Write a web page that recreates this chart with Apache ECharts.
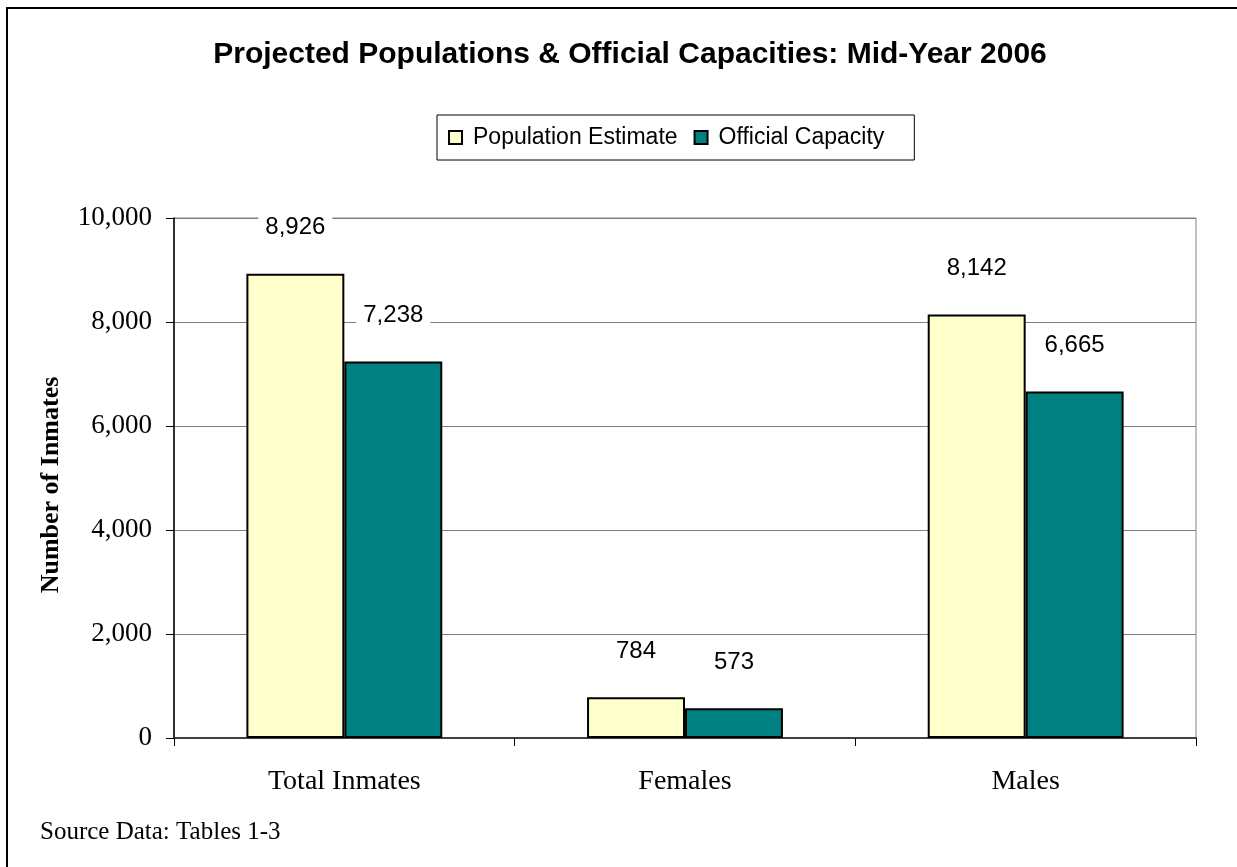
<!DOCTYPE html>
<html>
<head>
<meta charset="utf-8">
<script src="https://cdn.jsdelivr.net/npm/echarts@6/dist/echarts.min.js"></script>
<style>
  html, body { margin: 0; padding: 0; background: #fff; }
  #chart { width: 1237px; height: 867px; }
</style>
</head>
<body>
<div id="chart"></div>
<script>
// Inmate groups and their mid-year 2006 figures
const categories = ['Total Inmates', 'Females', 'Males'];
const populationEstimate = [8926, 784, 8142];
const officialCapacity = [7238, 573, 6665];
const yTicks = { min: 0, max: 10000, interval: 2000 };

const fmt = v => Number(v).toLocaleString('en-US');
const SANS = 'Liberation Sans, Arial, sans-serif';
const SERIF = 'Liberation Serif, Times New Roman, serif';

const valueLabel = {
  show: true,
  position: 'top',
  distance: 32,
  fontFamily: SANS,
  fontSize: 24,
  color: '#000',
  backgroundColor: '#fff',
  padding: [2, 7],
  lineHeight: 24,
  formatter: p => fmt(p.value)
};

const chart = echarts.init(document.getElementById('chart'), null, { renderer: 'canvas' });

chart.setOption({
  animation: false,
  backgroundColor: '#fff',
  title: {
    text: 'Projected Populations & Official Capacities: Mid-Year 2006',
    left: 625,
    textAlign: 'center',
    top: 35,
    textStyle: {
      fontFamily: SANS,
      fontWeight: 'bold',
      fontSize: 30,
      color: '#000'
    }
  },
  legend: {
    left: 437,
    top: 115,
    padding: [10, 30, 10, 11],
    borderColor: '#000',
    borderWidth: 1,
    itemWidth: 13,
    itemHeight: 13,
    itemGap: 16,
    icon: 'rect',
    textStyle: {
      fontFamily: SANS,
      fontSize: 23,
      lineHeight: 25,
      color: '#000',
      padding: [0, 0, 0, 6]
    },
    data: ['Population Estimate', 'Official Capacity']
  },
  grid: {
    left: 174,
    right: 41,
    top: 218,
    bottom: 129,
    show: true,
    borderColor: '#808080',
    borderWidth: 1,
    containLabel: false
  },
  xAxis: {
    type: 'category',
    data: categories,
    axisLine: { lineStyle: { color: '#404040', width: 2 } },
    axisTick: { show: true, length: 8, lineStyle: { color: '#000', width: 1 } },
    axisLabel: {
      margin: 30,
      fontFamily: SERIF,
      fontSize: 28,
      color: '#000'
    }
  },
  yAxis: {
    type: 'value',
    min: yTicks.min,
    max: yTicks.max,
    interval: yTicks.interval,
    name: 'Number of Inmates',
    nameLocation: 'middle',
    nameGap: 110,
    nameTextStyle: {
      fontFamily: SERIF,
      fontWeight: 'bold',
      fontSize: 26,
      color: '#000',
      padding: [0, 14, 0, 0]
    },
    axisLine: { show: true, lineStyle: { color: '#000', width: 1.5 } },
    axisTick: { show: true, length: 8, lineStyle: { color: '#000', width: 1 } },
    splitLine: { show: true, lineStyle: { color: '#808080', width: 1 } },
    axisLabel: {
      margin: 22,
      fontFamily: SERIF,
      fontSize: 27,
      color: '#000',
      formatter: v => fmt(v)
    }
  },
  series: [
    {
      name: 'Population Estimate',
      type: 'bar',
      data: populationEstimate,
      barGap: '0%',
      barCategoryGap: '42.5%',
      itemStyle: { color: '#FFFFCC', borderColor: '#000', borderWidth: 2 },
      label: valueLabel,
      z: 3
    },
    {
      name: 'Official Capacity',
      type: 'bar',
      data: officialCapacity,
      barGap: '0%',
      barCategoryGap: '42.5%',
      itemStyle: { color: '#008080', borderColor: '#000', borderWidth: 2 },
      label: valueLabel,
      z: 3
    }
  ],
  graphic: [
    {
      type: 'rect',
      shape: { x: 7, y: 8, width: 1400, height: 1000 },
      style: { fill: 'none', stroke: '#000', lineWidth: 2 },
      silent: true,
      z: 0
    },
    {
      type: 'text',
      left: 40,
      top: 820,
      style: {
        text: 'Source Data: Tables 1-3',
        fontFamily: SERIF,
        fontSize: 25,
        fill: '#000'
      }
    }
  ]
});
</script>
</body>
</html>
